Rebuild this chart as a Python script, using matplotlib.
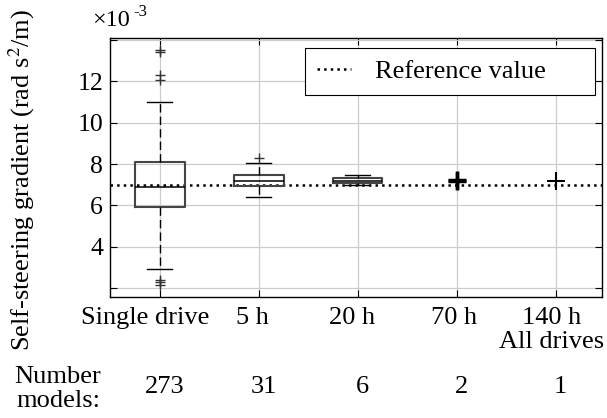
import matplotlib
matplotlib.use("Agg")
import matplotlib.pyplot as plt
from matplotlib.lines import Line2D
from matplotlib.transforms import ScaledTranslation

plt.rcParams['font.family'] = ['Liberation Serif', 'DejaVu Serif']
plt.rcParams['mathtext.fontset'] = 'stix'

# valeurs en unités de 1e-3 rad s^2/m
categories = ['Single drive', '5 h', '20 h', '70 h', '140 h\nAll drives']
nb_models = [273, 31, 6, 2, 1]
reference = 7.0

# statistiques des boîtes
q1 = [5.91, 6.94, 7.07]
med = [6.89, 7.17, 7.20]
q3 = [8.10, 7.45, 7.34]
whis_low = [2.94, 6.39, 7.00]
whis_high = [11.02, 8.03, 7.47]
outliers = [[13.50, 13.42, 12.32, 12.08, 2.41, 2.30, 2.17], [8.30], []]

# modèles isolés (70 h et 140 h)
vals_70h = [7.17, 7.23]
vals_140h = [7.20]

ytick_vals = [2, 4, 6, 8, 10, 12, 14]
ytick_labels = ['', '4', '6', '8', '10', '12', '']

fig = plt.figure(figsize=(6.07, 4.18), dpi=100)
ax = fig.add_axes([0.181, 0.2895, 0.811, 0.6195])

# grille
ax.set_axisbelow(True)
ax.grid(True, color='#cccccc', linewidth=0.9)

# ligne de référence
ax.axhline(reference, color='black', linestyle=':', linewidth=1.8, zorder=1)

stats = []
for i in range(3):
    stats.append({'q1': q1[i], 'med': med[i], 'q3': q3[i],
                  'whislo': whis_low[i], 'whishi': whis_high[i],
                  'fliers': outliers[i]})

ax.bxp(stats, positions=[1, 2, 3], widths=0.5, manage_ticks=False,
       boxprops=dict(color='#444444', linewidth=1.5),
       medianprops=dict(color='black', linewidth=1.1),
       whiskerprops=dict(color='black', linewidth=1.0, linestyle=(0, (6, 3))),
       capprops=dict(color='black', linewidth=1.0),
       flierprops=dict(marker='+', markeredgecolor='#333333', markersize=7,
                       markeredgewidth=1.0, linestyle='none'))

ax.plot([4] * len(vals_70h), vals_70h, linestyle='none', marker='+',
        markersize=13, markeredgewidth=2.5, color='black', zorder=3)
ax.plot([5] * len(vals_140h), vals_140h, linestyle='none', marker='+',
        markersize=13, markeredgewidth=1.5, color='black', zorder=3)

ax.set_xlim(0.495, 5.47)
ax.set_ylim(1.57, 14.1)
ax.set_xticks(range(1, 6))
ax.set_xticklabels(categories, fontsize=19, linespacing=1.15)
ax.set_yticks(ytick_vals)
ax.set_yticklabels(ytick_labels, fontsize=18.5)
ax.tick_params(direction='in', length=5, top=True, right=True, width=0.8)
ax.tick_params(axis='x', pad=7)
ax.tick_params(axis='y', pad=5)
for s in ax.spines.values():
    s.set_linewidth(1.0)

# décalage des étiquettes (comme dans l'original MATLAB)
decalages = [-15, -6, -6, -3, -4]
for lab, dx in zip(ax.get_xticklabels(), decalages):
    lab.set_transform(lab.get_transform() + ScaledTranslation(dx / 100, 0, fig.dpi_scale_trans))

# facteur d'échelle façon MATLAB
fig.text(92 / 607, 1 - 20 / 418, '\u00d710', fontsize=17.5, va='center', ha='left')
fig.text(133 / 607, 1 - 12 / 418, '-3', fontsize=12, va='center', ha='left')

fig.text(22 / 607, 1 - 180 / 418, 'Self-steering gradient (rad s$^2$/m)',
         rotation=90, fontsize=19, ha='center', va='center')

# nombre de modèles
fig.text(58 / 607, 1 - 389 / 418, 'Number\nmodels:', fontsize=19, ha='center',
         va='center', linespacing=1.12)
y_count = (1 - 387 / 418 - 0.2895) / 0.6195
decal_n = ScaledTranslation(5 / 100, 0, fig.dpi_scale_trans)
for i, n in enumerate(nb_models):
    ax.text(i + 1, y_count, str(n), fontsize=19, ha='center', va='center',
            transform=ax.get_xaxis_transform() + decal_n)

handle = Line2D([], [], color='black', linestyle=':', linewidth=1.8)
leg = ax.legend([handle], ['Reference value'], loc='upper left',
                bbox_to_anchor=(305 / 607, 1 - 96 / 418, 290 / 607, 48 / 418),
                bbox_transform=fig.transFigure, mode='expand', fontsize=19,
                fancybox=False, framealpha=1, edgecolor='black',
                borderpad=0.45, handlelength=1.3, handletextpad=0.9, borderaxespad=0)
leg.get_frame().set_linewidth(0.8)

fig.savefig('out.png', dpi=100)
